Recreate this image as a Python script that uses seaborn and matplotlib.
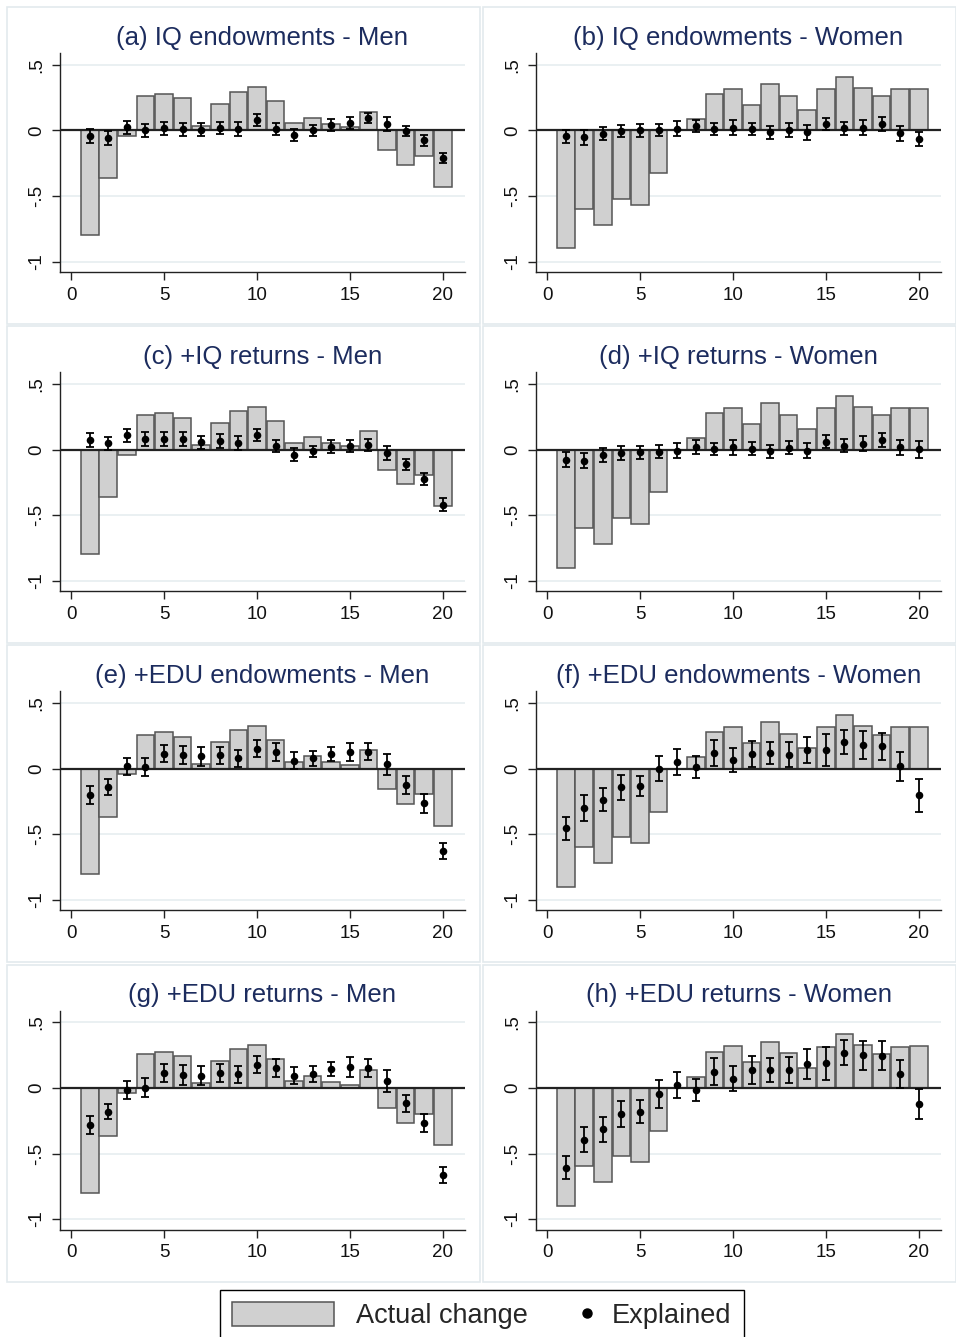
import numpy as np
import pandas as pd
import matplotlib
matplotlib.use("Agg")
import matplotlib.pyplot as plt
import seaborn as sns
from matplotlib.patches import Patch, Rectangle
from matplotlib.lines import Line2D
from matplotlib.legend_handler import HandlerLine2D

# ------------------------
# Data
# ------------------------
pos = np.arange(1, 21)

actual_men = [-0.80, -0.364, -0.04, 0.26, 0.277, 0.244, 0.036, 0.204, 0.295, 0.328,
              0.221, 0.053, 0.094, 0.048, 0.025, 0.14, -0.153, -0.265, -0.196, -0.433]
actual_women = [-0.90, -0.598, -0.72, -0.52, -0.567, -0.326, 0.0, 0.087, 0.277, 0.318,
                0.196, 0.354, 0.265, 0.155, 0.316, 0.41, 0.326, 0.26, 0.316, 0.318]

# explained change (points) and half-width of the confidence interval
expl_a = [-0.046, -0.059, 0.025, 0.0, 0.015, 0.01, 0.005, 0.018, 0.01, 0.081,
          0.013, -0.033, 0.0, 0.04, 0.056, 0.094, 0.048, -0.003, -0.076, -0.209]
ci_a = [0.053, 0.053, 0.05, 0.05, 0.048, 0.05, 0.05, 0.048, 0.053, 0.045,
        0.047, 0.047, 0.042, 0.045, 0.046, 0.04, 0.052, 0.04, 0.043, 0.038]

expl_b = [-0.046, -0.053, -0.025, -0.003, 0.0, 0.003, 0.013, 0.033, 0.013, 0.02,
          0.01, -0.013, 0.005, -0.015, 0.048, 0.015, 0.02, 0.05, -0.023, -0.064]
ci_b = [0.05, 0.058, 0.05, 0.046, 0.05, 0.048, 0.055, 0.048, 0.047, 0.056,
        0.048, 0.05, 0.052, 0.056, 0.047, 0.047, 0.058, 0.055, 0.055, 0.053]

expl_c = [0.074, 0.048, 0.109, 0.081, 0.081, 0.081, 0.056, 0.066, 0.048, 0.109,
          0.025, -0.038, -0.013, 0.023, 0.025, 0.038, -0.025, -0.112, -0.224, -0.42]
ci_c = [0.055, 0.051, 0.051, 0.056, 0.05, 0.051, 0.051, 0.052, 0.052, 0.045,
        0.046, 0.047, 0.04, 0.048, 0.046, 0.046, 0.055, 0.041, 0.047, 0.048]

expl_d = [-0.076, -0.084, -0.043, -0.025, -0.02, -0.015, -0.008, 0.02, 0.003, 0.018,
          0.008, -0.013, 0.015, -0.01, 0.059, 0.031, 0.043, 0.074, 0.018, 0.003]
ci_d = [0.056, 0.057, 0.055, 0.051, 0.05, 0.05, 0.058, 0.052, 0.048, 0.057,
        0.05, 0.048, 0.05, 0.058, 0.05, 0.047, 0.057, 0.056, 0.057, 0.065]

expl_e = [-0.20, -0.137, 0.018, 0.013, 0.114, 0.104, 0.094, 0.102, 0.081, 0.152,
          0.127, 0.063, 0.079, 0.114, 0.127, 0.13, 0.033, -0.124, -0.264, -0.627]
ci_e = [0.065, 0.062, 0.065, 0.07, 0.066, 0.07, 0.07, 0.067, 0.065, 0.066,
        0.07, 0.065, 0.06, 0.053, 0.071, 0.065, 0.077, 0.072, 0.07, 0.062]

expl_f = [-0.454, -0.30, -0.236, -0.142, -0.132, 0.0, 0.053, 0.015, 0.122, 0.066,
          0.112, 0.119, 0.107, 0.142, 0.142, 0.203, 0.183, 0.17, 0.018, -0.203]
ci_f = [0.089, 0.10, 0.088, 0.093, 0.076, 0.096, 0.10, 0.084, 0.10, 0.089,
        0.098, 0.086, 0.095, 0.10, 0.124, 0.089, 0.108, 0.104, 0.108, 0.123]

expl_g = [-0.284, -0.18, -0.015, 0.003, 0.114, 0.099, 0.094, 0.112, 0.104, 0.178,
          0.15, 0.094, 0.104, 0.145, 0.16, 0.152, 0.053, -0.117, -0.267, -0.665]
ci_g = [0.067, 0.06, 0.071, 0.074, 0.071, 0.074, 0.072, 0.069, 0.066, 0.067,
        0.07, 0.066, 0.061, 0.055, 0.077, 0.071, 0.081, 0.067, 0.065, 0.061]

expl_h = [-0.607, -0.396, -0.315, -0.198, -0.18, -0.046, 0.025, -0.013, 0.124, 0.071,
          0.137, 0.14, 0.137, 0.185, 0.188, 0.269, 0.249, 0.246, 0.107, -0.124]
ci_h = [0.086, 0.096, 0.095, 0.099, 0.086, 0.103, 0.10, 0.083, 0.103, 0.094,
        0.105, 0.091, 0.10, 0.113, 0.128, 0.096, 0.109, 0.11, 0.105, 0.115]

titles = ["(a) IQ endowments - Men", "(b) IQ endowments - Women",
          "(c) +IQ returns - Men", "(d) +IQ returns - Women",
          "(e) +EDU endowments - Men", "(f) +EDU endowments - Women",
          "(g) +EDU returns - Men", "(h) +EDU returns - Women"]
explained = [expl_a, expl_b, expl_c, expl_d, expl_e, expl_f, expl_g, expl_h]
ci_half = [ci_a, ci_b, ci_c, ci_d, ci_e, ci_f, ci_g, ci_h]

x_ticks = [0, 5, 10, 15, 20]
y_ticks = [-1, -0.5, 0, 0.5]
y_ticklabels = ["-1", "-.5", "0", ".5"]

# ------------------------
# Style
# ------------------------
sns.set_style("white")
plt.rcParams['font.family'] = ['Liberation Sans', 'DejaVu Sans']

BAR_FACE = '#d0d0d0'
BAR_EDGE = '#555555'
TITLE_COL = '#1c2c5e'
GRID_COL = '#e6eef0'
BORDER_COL = '#e3eaed'

W, H = 956, 1337
fig = plt.figure(figsize=(W / 100, H / 100), dpi=100)

col_left = [60, 536]
row_step = 319.2

for i, title in enumerate(titles):
    r, c = divmod(i, 2)
    top_px = 53 + row_step * r
    bot_px = 272 + row_step * r
    ax = fig.add_axes([col_left[c] / W, 1 - bot_px / H, 405 / W, (bot_px - top_px) / H])

    # faint panel outline (Stata graph region)
    px0 = 7 if c == 0 else 483
    py0 = 7 + row_step * r
    fig.add_artist(Rectangle((px0 / W, 1 - (py0 + 317) / H), 473 / W, 317 / H,
                             transform=fig.transFigure, fill=False,
                             edgecolor=BORDER_COL, lw=1.2))

    actual = actual_men if c == 0 else actual_women
    df = pd.DataFrame({'x': pos, 'actual': actual,
                       'expl': explained[i], 'ci': ci_half[i]})

    sns.barplot(data=df, x='x', y='actual', native_scale=True, width=0.95,
                color=BAR_FACE, saturation=1, edgecolor=BAR_EDGE, linewidth=1.1,
                errorbar=None, ax=ax, zorder=2)
    ax.axhline(0, color='#222222', lw=1.6, zorder=3)
    ax.errorbar(df['x'], df['expl'], yerr=df['ci'], fmt='none', ecolor='black',
                elinewidth=1.3, capsize=3.2, capthick=1.3, zorder=4)
    sns.scatterplot(data=df, x='x', y='expl', color='black', s=30,
                    edgecolor='black', linewidth=0, ax=ax, zorder=5)

    ax.set_xlim(-0.6, 21.2)
    ax.set_ylim(-1.08, 0.59)
    ax.set_xticks(x_ticks)
    ax.set_xticklabels([str(t) for t in x_ticks])
    ax.set_yticks(y_ticks)
    ax.set_yticklabels(y_ticklabels)
    ax.set_xlabel('')
    ax.set_ylabel('')
    ax.set_axisbelow(True)
    ax.yaxis.grid(True, color=GRID_COL, lw=1.2)
    ax.xaxis.grid(False)

    for side in ['top', 'right']:
        ax.spines[side].set_visible(False)
    for side in ['left', 'bottom']:
        ax.spines[side].set_color('#222222')
        ax.spines[side].set_linewidth(1.0)

    ax.tick_params(axis='both', which='major', direction='out', length=5.5,
                   width=1.0, color='#222222', labelsize=13.5, pad=5,
                   labelcolor='#111111', left=True, bottom=True)
    ax.tick_params(axis='y', labelrotation=90)
    for lab in ax.get_yticklabels():
        lab.set_va('center')

    ax.set_title(title, fontsize=18.5, color=TITLE_COL, pad=6)


# legend: dot sits at the right end of its handle box
class DotRight(HandlerLine2D):
    def get_xdata(self, legend, xdescent, ydescent, width, height, fontsize):
        right = -xdescent + width - 2.5
        xs = np.array([right - 1.0, right + 1.0])
        return xs, np.array([right])


bar_handle = Patch(facecolor=BAR_FACE, edgecolor=BAR_EDGE, lw=1.1)
dot_handle = Line2D([], [], marker='o', color='black', linestyle='none', markersize=6.5)
leg = fig.legend([bar_handle, dot_handle], ['Actual change', 'Explained'],
                 loc='upper center', bbox_to_anchor=(482 / W, 1 - 1290 / H),
                 ncol=2, fontsize=19.5, frameon=True, fancybox=False,
                 edgecolor='black', framealpha=1, borderaxespad=0,
                 handlelength=3.76, handleheight=0.95, handletextpad=0.8,
                 columnspacing=-1.45, borderpad=0.45, numpoints=1,
                 handler_map={Line2D: DotRight()})
leg.get_frame().set_linewidth(1.0)

fig.savefig('out.png', dpi=100)
